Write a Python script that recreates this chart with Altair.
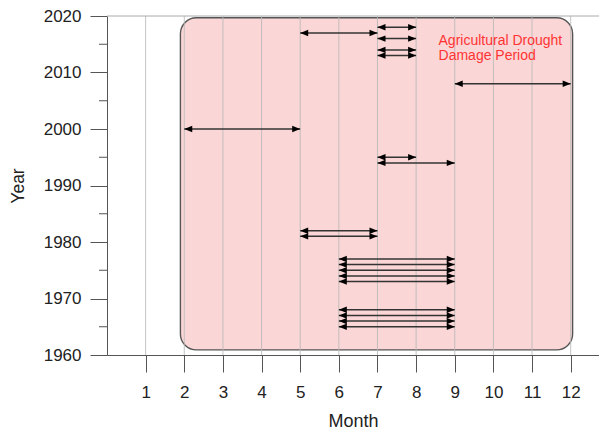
import altair as alt
import pandas as pd

# ---- data ----
arrow_year  = [2018, 2017, 2016, 2014, 2013, 2008, 2000, 1995, 1994, 1982, 1981,
               1977, 1976, 1975, 1974, 1973, 1968, 1967, 1966, 1965]
arrow_start = [7, 5, 7, 7, 7, 9, 2, 7, 7, 5, 5, 6, 6, 6, 6, 6, 6, 6, 6, 6]
arrow_end   = [8, 7, 8, 8, 8, 12, 5, 8, 9, 7, 7, 9, 9, 9, 9, 9, 9, 9, 9, 9]

month_ticks = [1, 2, 3, 4, 5, 6, 7, 8, 9, 10, 11, 12]
year_ticks = [1960, 1970, 1980, 1990, 2000, 2010, 2020]
year_minor = [1965, 1975, 1985, 1995, 2005, 2015]

period_month = [1.9, 12.05]
period_year = [1960.9, 2019.7]

label_lines = ["Agricultural Drought", "Damage Period"]
label_month = 8.58
label_year = 2014.9

W, H = 492, 339
X_MAX = W / 38.64
FONT = "Liberation Sans"

xs = alt.Scale(domain=[0, X_MAX], nice=False, zero=False)
ys = alt.Scale(domain=[1960, 2020], nice=False, zero=False)

arrows = pd.DataFrame({"year": arrow_year, "start": arrow_start, "end": arrow_end})

base_x_axis = alt.Axis(
    values=month_ticks, title="Month", grid=False, format="d",
    domainColor="#555555", tickColor="#555555", tickSize=17,
    labelFont=FONT, labelFontSize=17, labelColor="#222222",
    labelBaseline="alphabetic", labelPadding=25, labelAngle=0,
    titleFont=FONT, titleFontSize=18, titleFontWeight="normal", titleColor="#222222",
    titleBaseline="alphabetic", titleY=71,
)
base_y_axis = alt.Axis(
    values=year_ticks, title="Year", grid=False, format="d",
    domainColor="#555555", tickColor="#555555", tickSize=17,
    labelFont=FONT, labelFontSize=17, labelColor="#222222", labelPadding=9,
    titleFont=FONT, titleFontSize=17.5, titleFontWeight="normal", titleColor="#222222",
    titleBaseline="alphabetic", titleX=-84, titleY=H / 2,
)

rect = alt.Chart(pd.DataFrame({
    "x": [period_month[0]], "x2": [period_month[1]],
    "y": [period_year[0]], "y2": [period_year[1]],
})).mark_rect(
    fill="#fbd6d6", stroke="#555555", strokeWidth=1.4, cornerRadius=16
).encode(
    x=alt.X("x:Q", scale=xs, axis=base_x_axis),
    x2="x2:Q",
    y=alt.Y("y:Q", scale=ys, axis=base_y_axis),
    y2="y2:Q",
)

grid = alt.Chart(pd.DataFrame({"m": month_ticks})).mark_rule(
    color="#b8b8b8", strokeWidth=1, opacity=0.85
).encode(
    x=alt.X("m:Q", scale=xs),
    y=alt.value(0), y2=alt.value(H),
)

top_line = alt.Chart(pd.DataFrame({"y": [2020]})).mark_rule(
    color="#aaaaaa", strokeWidth=1
).encode(
    y=alt.Y("y:Q", scale=ys),
    x=alt.value(0), x2=alt.value(W),
)

minor = alt.Chart(pd.DataFrame({"y": year_minor})).mark_rule(
    color="#555555", strokeWidth=1
).encode(
    y=alt.Y("y:Q", scale=ys),
    x=alt.value(-8), x2=alt.value(0),
)

lines = alt.Chart(arrows).mark_rule(color="#333333", strokeWidth=1.5).encode(
    x=alt.X("start:Q", scale=xs), x2="end:Q",
    y=alt.Y("year:Q", scale=ys),
)

head_l = alt.Chart(arrows).mark_point(
    shape="M0,0L2,-0.8L2,0.8Z", filled=True, size=64, color="black", opacity=1, strokeWidth=0
).encode(
    x=alt.X("start:Q", scale=xs),
    y=alt.Y("year:Q", scale=ys),
)

head_r = alt.Chart(arrows).mark_point(
    shape="M0,0L-2,-0.8L-2,0.8Z", filled=True, size=64, color="black", opacity=1, strokeWidth=0
).encode(
    x=alt.X("end:Q", scale=xs),
    y=alt.Y("year:Q", scale=ys),
)

label = alt.Chart(pd.DataFrame({"m": [label_month], "y": [label_year]})).mark_text(
    text=label_lines, lineHeight=15, align="left", baseline="alphabetic",
    font=FONT, fontSize=14, color="#ff3333"
).encode(
    x=alt.X("m:Q", scale=xs),
    y=alt.Y("y:Q", scale=ys),
)

chart = alt.layer(rect, grid, top_line, minor, lines, head_l, head_r, label).properties(
    width=W, height=H,
    autosize=alt.AutoSizeParams(type="none"),
    padding={"left": 99, "top": 8, "right": 0, "bottom": 76},
    background="white",
).configure_view(stroke=None)

chart.save("out.html", embed_options={"renderer": "svg", "actions": False})
